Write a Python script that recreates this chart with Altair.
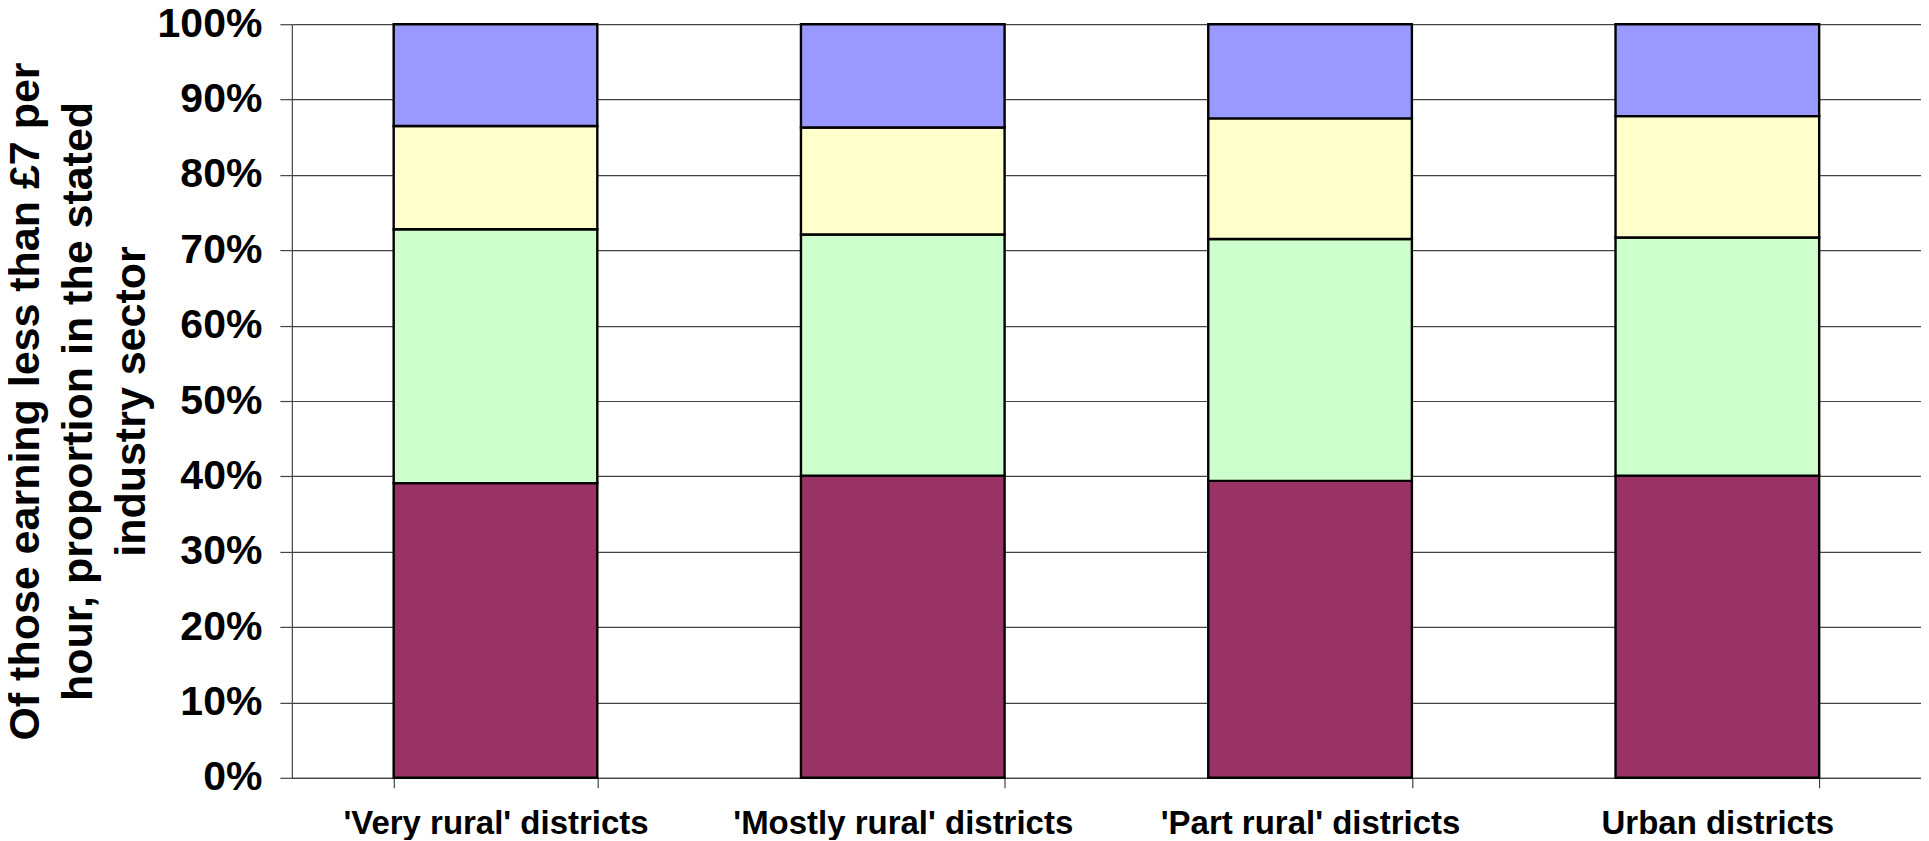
import altair as alt
import pandas as pd

categories = ["'Very rural' districts", "'Mostly rural' districts", "'Part rural' districts", "Urban districts"]
sectors = ["Sector 1", "Sector 2", "Sector 3", "Sector 4"]
colors = ["#993366", "#CCFFCC", "#FFFFCC", "#9999FF"]
sector1 = [39.1, 40.1, 39.4, 40.1]
sector2 = [33.7, 32.0, 32.1, 31.6]
sector3 = [13.7, 14.2, 16.0, 16.1]
sector4 = [13.5, 13.7, 12.5, 12.2]

rows = []
for i, c in enumerate(categories):
    for j, (s, vals) in enumerate(zip(sectors, [sector1, sector2, sector3, sector4])):
        rows.append({"district": c, "sector": s, "order": j, "value": vals[i] / 100})
df = pd.DataFrame(rows)

FONT = "Liberation Sans"

chart = alt.Chart(df).mark_bar(stroke="black", strokeWidth=2.4).encode(
    x=alt.X("district:N", sort=categories,
            scale=alt.Scale(paddingInner=0.5, paddingOuter=0.25),
            axis=alt.Axis(title=None, labelAngle=0, labelFont=FONT, labelFontSize=33,
                          labelFontWeight="bold", labelColor="black", labelPadding=20,
                          labelLimit=0,
                          tickBand="extent", tickSize=10, tickColor="#444", tickWidth=1.2,
                          domainColor="#444", domainWidth=1.2, grid=False)),
    y=alt.Y("value:Q", stack="zero",
            scale=alt.Scale(domain=[0, 1], nice=False),
            axis=alt.Axis(format=".0%", values=[i / 10 for i in range(11)],
                          title=["Of those earning less than £7 per",
                                 "hour, proportion in the stated",
                                 "industry sector"],
                          titleFont=FONT, titleFontSize=43, titleFontWeight="bold",
                          titleColor="black", titleLineHeight=53, titlePadding=4,
                          labelFont=FONT, labelFontSize=41, labelFontWeight="bold",
                          labelColor="black", labelPadding=18,
                          tickSize=12, tickColor="#444", tickWidth=1.2,
                          domainColor="#444", domainWidth=1.2,
                          grid=True, gridColor="#444", gridWidth=1.2)),
    color=alt.Color("sector:N", scale=alt.Scale(domain=sectors, range=colors), legend=None),
    order=alt.Order("order:Q"),
).properties(
    width=1630, height=754,
    autosize=alt.AutoSizeParams(type="none"),
    padding={"left": 284, "top": 16, "right": 0, "bottom": 62},
).configure_view(stroke=None)

chart.save("out.html", embed_options={"renderer": "svg", "actions": False})
